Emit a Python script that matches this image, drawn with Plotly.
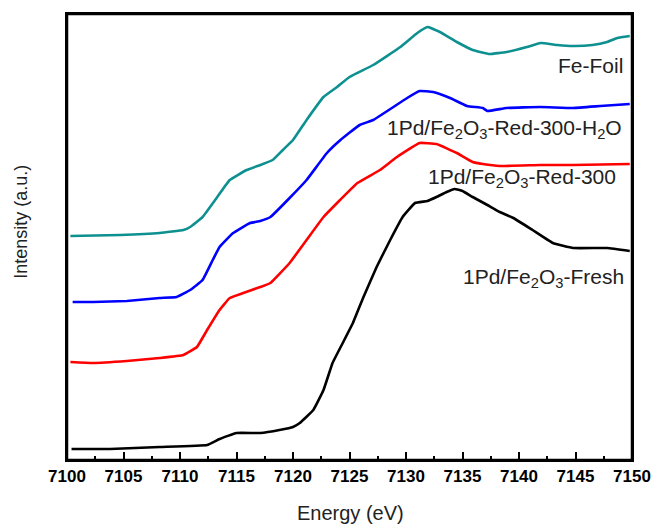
import plotly.graph_objects as go

# Energy (eV) and intensity (a.u., offset-stacked as in the figure)
foil_x = [7100.3, 7104.7, 7108.2, 7110.3, 7110.9, 7112.0, 7113.3, 7114.4, 7115.9, 7117.1, 7118.2, 7119.1,
          7120.0, 7121.2, 7122.7, 7123.9, 7125.0, 7127.1, 7129.5, 7131.0, 7131.9, 7133.0, 7134.5, 7135.9,
          7137.4, 7138.9, 7140.7, 7141.9, 7143.4, 7144.8, 7146.5, 7147.8, 7148.7, 7149.8]
foil_y = [22.4, 22.5, 22.7, 23.0, 23.3, 24.3, 26.3, 28.0, 29.0, 29.5, 30.0, 31.0,
          32.0, 34.0, 36.3, 37.3, 38.3, 39.5, 41.3, 42.7, 43.3, 42.8, 41.8, 41.0,
          40.6, 40.8, 41.3, 41.7, 41.5, 41.4, 41.5, 41.8, 42.2, 42.4]

h2o_x = [7100.5, 7102.3, 7105.3, 7108.2, 7109.7, 7110.9, 7112.0, 7112.9, 7113.5, 7114.7, 7116.2, 7117.1,
         7118.0, 7119.7, 7121.2, 7123.0, 7124.2, 7125.9, 7127.1, 7130.1, 7131.2, 7132.4, 7133.9, 7135.4,
         7136.8, 7137.2, 7138.9, 7141.9, 7144.8, 7147.2, 7149.8]
h2o_y = [15.8, 15.8, 15.9, 16.2, 16.3, 17.0, 18.0, 20.0, 21.3, 22.7, 23.7, 23.9,
         24.3, 26.2, 28.0, 30.7, 32.0, 33.5, 34.0, 36.2, 36.9, 36.8, 36.2, 35.4,
         35.2, 34.9, 35.2, 35.3, 35.2, 35.4, 35.6]

red_x = [7100.3, 7102.3, 7105.3, 7108.2, 7110.3, 7111.5, 7112.4, 7113.5, 7114.4, 7115.6, 7117.1, 7118.0,
         7119.7, 7121.2, 7122.7, 7123.9, 7125.7, 7127.7, 7129.2, 7131.2, 7132.7, 7134.5, 7135.9, 7136.8,
         7138.3, 7141.9, 7144.8, 7149.8]
red_y = [9.8, 9.7, 9.9, 10.2, 10.5, 11.3, 13.0, 15.0, 16.2, 16.7, 17.3, 17.7,
         19.7, 22.0, 24.3, 25.7, 27.7, 29.0, 30.3, 31.7, 31.6, 30.7, 29.8, 29.6,
         29.4, 29.5, 29.5, 29.6]

fresh_x = [7100.4, 7103.8, 7108.2, 7112.4, 7113.5, 7115.0, 7117.1, 7118.8, 7120.0, 7120.6, 7121.8, 7122.7,
           7123.5, 7124.4, 7125.3, 7126.2, 7127.4, 7128.6, 7129.7, 7130.8, 7131.9, 7132.7, 7133.6, 7134.3,
           7135.0, 7135.9, 7137.2, 7138.3, 7139.5, 7141.2, 7143.0, 7144.8, 7147.8, 7149.8]
fresh_y = [1.1, 1.1, 1.3, 1.5, 2.1, 2.7, 2.7, 3.0, 3.3, 3.7, 5.0, 7.0,
           9.7, 11.7, 13.7, 16.2, 19.3, 22.0, 24.3, 25.7, 25.9, 26.3, 26.8, 27.1,
           26.9, 26.3, 25.5, 24.8, 24.2, 23.0, 21.7, 21.2, 21.2, 20.9]

series = [
    ("Fe-Foil", foil_x, foil_y, "#0E9090"),
    ("1Pd/Fe<sub>2</sub>O<sub>3</sub>-Red-300-H<sub>2</sub>O", h2o_x, h2o_y, "#0000FF"),
    ("1Pd/Fe<sub>2</sub>O<sub>3</sub>-Red-300", red_x, red_y, "#FF0000"),
    ("1Pd/Fe<sub>2</sub>O<sub>3</sub>-Fresh", fresh_x, fresh_y, "#000000"),
]

label_x = [7149.4, 7149.3, 7148.8, 7149.5]
label_y = [39.5, 33.1, 28.2, 18.2]

tick_vals = [7100, 7105, 7110, 7115, 7120, 7125, 7130, 7135, 7140, 7145, 7150]

FONT = "Arial, Liberation Sans"

fig = go.Figure()
for name, xs, ys, col in series:
    fig.add_trace(go.Scatter(x=xs, y=ys, mode="lines", name=name,
                             line=dict(color=col, width=2.6, shape="spline", smoothing=0.3)))

for (name, _, _, _), lx, ly in zip(series, label_x, label_y):
    fig.add_annotation(x=lx, y=ly, xref="x", yref="y", text=name, showarrow=False,
                       xanchor="right", yanchor="middle",
                       font=dict(family=FONT, size=21, color="#222222"))

# axis titles
fig.add_annotation(x=0.501, y=-0.119, xref="paper", yref="paper", text="Energy (eV)",
                   showarrow=False, xanchor="center", yanchor="middle",
                   font=dict(family=FONT, size=20, color="#222222"))
fig.add_annotation(x=-0.0816, y=0.534, xref="paper", yref="paper", text="Intensity (a.u.)",
                   showarrow=False, xanchor="center", yanchor="middle", textangle=-90,
                   font=dict(family=FONT, size=18, color="#222222"))

fig.add_shape(type="rect", xref="paper", yref="paper", x0=0, y0=0, x1=1, y1=1,
              line=dict(color="black", width=2.5), layer="above")

fig.update_layout(
    width=654, height=525,
    margin=dict(l=67, r=22, t=14, b=65),
    paper_bgcolor="white", plot_bgcolor="white",
    showlegend=False,
    font=dict(family=FONT, color="black"),
)
fig.update_xaxes(
    range=[7100, 7150], tickvals=tick_vals, ticktext=[str(v) for v in tick_vals],
    ticks="inside", ticklen=8, tickwidth=2, tickcolor="black",
    minor=dict(ticks="inside", dtick=2.5, tick0=7100, ticklen=4, tickwidth=2, tickcolor="black"),
    showline=True, linecolor="black", linewidth=2, mirror=True,
    showgrid=False, zeroline=False, automargin=False,
    tickfont=dict(family=FONT, size=17, color="black", weight="bold"),
)
fig.update_yaxes(
    range=[0, 44.6], showticklabels=False, ticks="",
    showline=True, linecolor="black", linewidth=2, mirror=True,
    showgrid=False, zeroline=False, automargin=False,
)

# remove the page's default 8px body margin so the figure sits at the window origin
fig.write_html("out.html",
               config={"displayModeBar": False},
               post_script="document.body.style.margin='0';document.body.style.overflow='hidden';")
